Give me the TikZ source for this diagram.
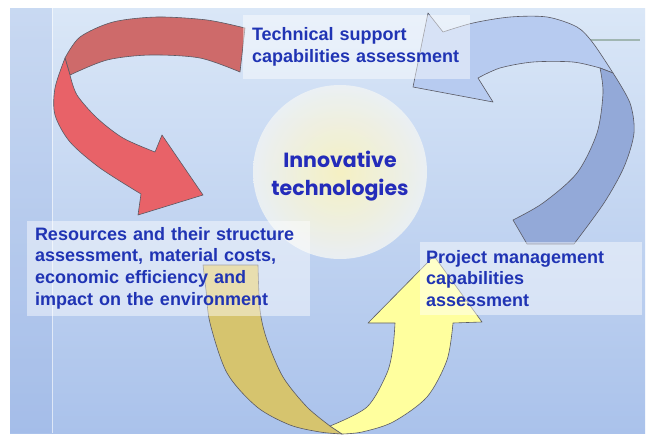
\documentclass[tikz,border=0pt]{standalone}
\usepackage{fontspec}
\setmainfont{Liberation Sans}
\newfontfamily\titlefont{Poppins}
\usepackage{xcolor}
\definecolor{PanelTop}{RGB}{218,231,247}
\definecolor{PanelBottom}{RGB}{170,194,235}
\definecolor{StripBlue}{RGB}{150,176,228}
\definecolor{LabelBlue}{RGB}{32,52,180}
\definecolor{TitleBlue}{RGB}{36,44,186}
\definecolor{RedBack}{RGB}{206,106,106}
\definecolor{RedFront}{RGB}{232,98,104}
\definecolor{BlueFront}{RGB}{183,203,240}
\definecolor{BlueBack}{RGB}{147,169,216}
\definecolor{YellowBack}{RGB}{214,196,110}
\definecolor{YellowFront}{RGB}{255,255,158}
\definecolor{GlowIn}{RGB}{250,243,190}
\definecolor{GlowOut}{RGB}{238,242,244}
\definecolor{EdgeGray}{RGB}{90,90,100}
\definecolor{LineGray}{RGB}{160,182,178}

\begin{document}
\begin{tikzpicture}[x=1pt,y=-1pt,
ribbon/.style={draw=EdgeGray,line width=0.6pt,line join=round},
textbox/.style={fill=white,fill opacity=0.45,text opacity=1,text=LabelBlue,
font=\bfseries\fontsize{18}{21.7}\selectfont,align=left,inner ysep=0pt},
title/.style={text=TitleBlue,font=\titlefont\bfseries\fontsize{20.5}{28}\selectfont,align=center}
]
\useasboundingbox (0,0) rectangle (648,437);
\fill[white] (0,0) rectangle (648,437);
\shade[top color=PanelTop,bottom color=PanelBottom] (10,8) rectangle (645,433);
\fill[StripBlue,opacity=0.25] (10,8) rectangle (52,433);
\draw[white,opacity=0.6,line width=1pt] (52,8) -- (52,433);
\draw[LineGray,line width=2.5pt] (583,40) -- (640,40);
\shade[inner color=GlowIn,outer color=GlowOut,opacity=0.9] (340,172) circle (87pt);

\filldraw[ribbon,fill=RedBack] (245,28) -- plot[smooth] coordinates {(245,28) (207,20) (157,17) (113,22) (80,37) (65,58)}
  -- (70,75) -- plot[smooth] coordinates {(70,75) (107,60) (150,55) (200,58) (240,72)} -- cycle;
\filldraw[ribbon,fill=RedFront] (65,58) -- plot[smooth] coordinates {(65,58) (55,88) (55,115) (70,142) (100,168) (141,194)}
  -- (138,215) -- (203,195) -- (162,135) -- (155,152)
  -- plot[smooth] coordinates {(155,152) (123,138) (97,118) (77,95) (70,75)} -- cycle;

\filldraw[ribbon,fill=BlueFront] (428,13) -- (413,87) -- (493,102) -- (478,78)
  -- plot[smooth] coordinates {(478,78) (500,68) (533,62) (573,62) (600,68)} -- (613,73)
  -- plot[smooth] coordinates {(613,73) (593,43) (577,27) (547,17) (510,17) (473,23) (443,32)} -- cycle;
\filldraw[ribbon,fill=BlueBack] (600,68) -- (613,73)
  -- plot[smooth] coordinates {(613,73) (630,103) (634,133) (624,167) (604,203) (574,244)}
  -- (527,244) -- (513,220)
  -- plot[smooth] coordinates {(513,220) (543,203) (577,173) (597,133) (603,93) (600,68)} -- cycle;

\filldraw[ribbon,fill=YellowBack] (203,265) -- plot[smooth] coordinates {(203,265) (206,290) (210,323) (227,373) (257,407) (290,425) (320,432) (342,434)}
  -- (330,426) -- plot[smooth] coordinates {(330,426) (307,407) (283,377) (267,340) (260,310) (258,265)} -- cycle;
\filldraw[ribbon,fill=YellowFront] (330,426) -- plot[smooth] coordinates {(330,426) (367,407) (387,373) (393,347) (395,323)}
  -- (368,323) -- (434,256) -- (482,322) -- (453,323)
  -- plot[smooth] coordinates {(453,323) (447,360) (427,397) (393,422) (362,432) (342,434)} -- cycle;

\node[textbox,minimum width=227pt,minimum height=64pt,text width=209pt,inner xsep=9pt] (tech) at (356.5,47) {Technical support\\capabilities assessment};
\node[textbox,minimum width=283pt,minimum height=95pt,text width=267pt,inner xsep=8pt] (res) at (168.5,268) {Resources and their structure\\assessment, material costs,\\economic efficiency and\\impact on the environment};
\node[textbox,minimum width=222pt,minimum height=73pt,text width=210pt,inner xsep=6pt] (proj) at (531,278.5) {Project management\\capabilities\\assessment};
\node[title] (core) at (340,176) {Innovative\\technologies};
\end{tikzpicture}
\end{document}
